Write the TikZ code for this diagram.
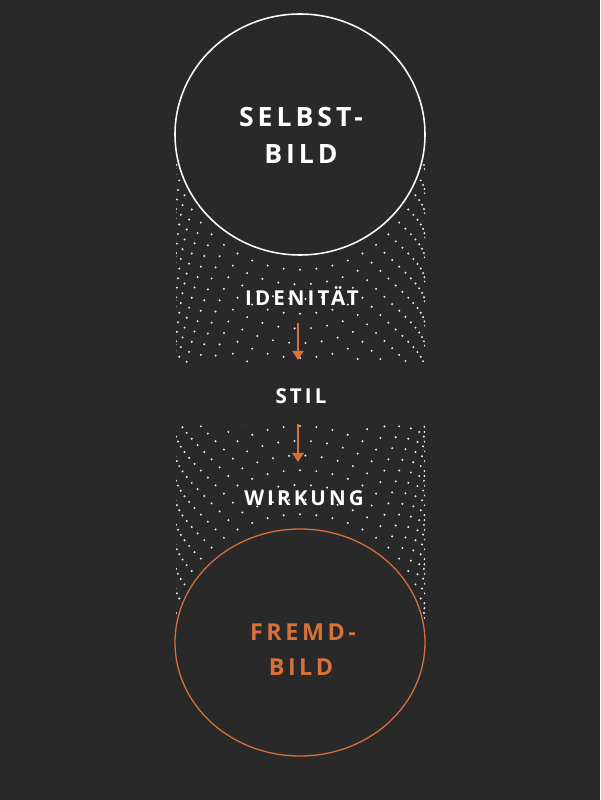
\documentclass[tikz,border=0pt]{standalone}
\usepackage{fontspec}
\setmainfont{Open Sans}
\newfontfamily\lblfont[LetterSpace=15]{Open Sans}
\usetikzlibrary{arrows.meta}
\definecolor{bg}{HTML}{2A2929}
\definecolor{accent}{HTML}{D8703A}
\definecolor{dotc}{HTML}{F0F0F0}
\tikzset{
  big/.style={anchor=base, inner sep=0pt, text=white, font=\lblfont\bfseries\fontsize{18.9}{20}\selectfont},
  bigo/.style={big, text=accent, font=\lblfont\bfseries\fontsize{16.6}{18}\selectfont},
  small/.style={anchor=base, inner sep=0pt, text=white, font=\lblfont\bfseries\fontsize{14.6}{16}\selectfont},
  flow/.style={draw=accent, line width=1.8pt, -{Triangle[length=6.5pt,width=8pt]}},
  dot/.style={fill=dotc}
}
\begin{document}
\begin{tikzpicture}[x=0.025cm,y=-0.025cm]
\fill[bg] (0,0) rectangle (600,800);
\useasboundingbox (0,0) rectangle (600,800);
% dotted arcs, top (copies of the upper ellipse's lower half, shifted down)
\begin{scope}
\clip (176,163) rectangle (425,363);
\foreach \k in {1,...,16} {
  \pgfmathsetmacro\cy{134.5+14.7*\k}
  \pgfmathsetmacro\ph{mod(\k-1,3)*2.5}
  \foreach \i in {0,...,24} {
    \pgfmathsetmacro\a{\ph+\i*7.5}
    \fill[dot] ({300+125*cos(\a)},{\cy+120.5*sin(\a)}) circle[radius=1.1];
  }
}
\end{scope}
% dotted arcs, bottom (copies of the lower ellipse's upper half, shifted up)
\begin{scope}
\clip (176,425) rectangle (425,619);
\foreach \k in {1,...,16} {
  \pgfmathsetmacro\cy{642.5-14.7*\k}
  \pgfmathsetmacro\ph{mod(\k-1,3)*2.5}
  \foreach \i in {0,...,24} {
    \pgfmathsetmacro\a{180+\ph+\i*7.5}
    \fill[dot] ({300+125*cos(\a)},{\cy+113.5*sin(\a)}) circle[radius=1.1];
  }
}
\end{scope}
% ellipses
\draw[white, line width=1.1pt] (300,134.5) ellipse [x radius=125, y radius=120.5];
\draw[accent, line width=0.9pt] (300,642.5) ellipse [x radius=125, y radius=113.5];
% texts
\node[big] (selbst) at (301,127) {SELBST-};
\node[big] (bild1) at (301,164) {BILD};
\node[small] (ident) at (302,305) {IDENITÄT};
\node[small] (stil) at (301,403.5) {STIL};
\node[small] (wirk) at (304,505.5) {WIRKUNG};
\node[bigo] (fremd) at (303,640) {FREMD-};
\node[bigo] (bild2) at (301,675) {BILD};
% arrows
\coordinate (a1s) at (298,323);
\coordinate (a1e) at (298,360);
\coordinate (a2s) at (298,424);
\coordinate (a2e) at (298,462);
\draw[flow] (a1s) -- (a1e);
\draw[flow] (a2s) -- (a2e);
\end{tikzpicture}
\end{document}
